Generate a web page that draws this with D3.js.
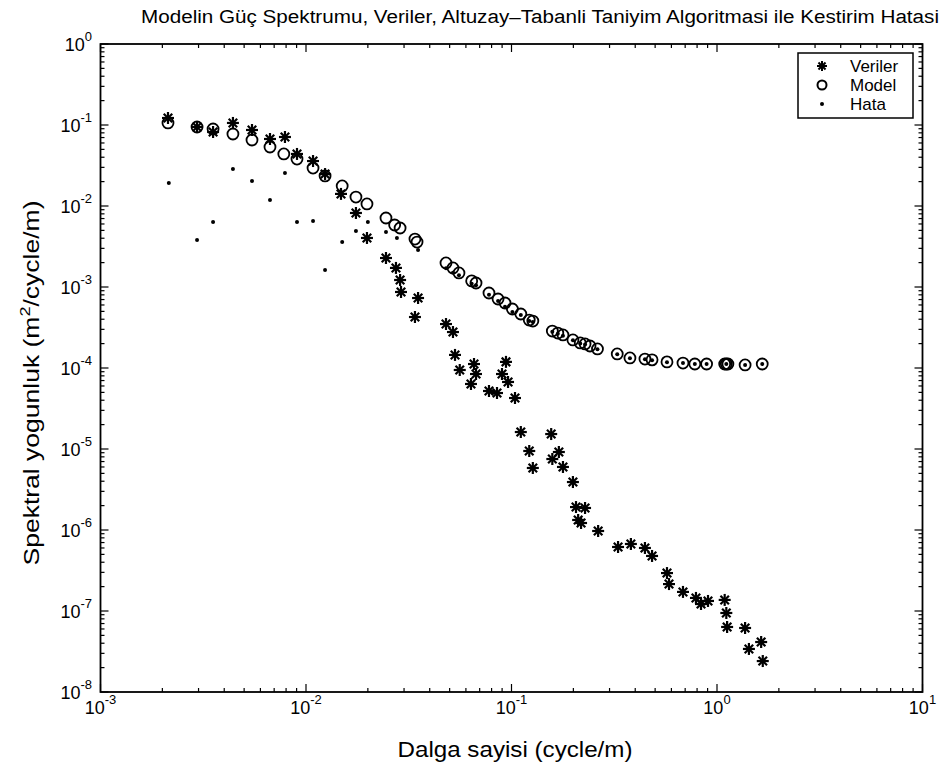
<!DOCTYPE html>
<html>
<head>
<meta charset="utf-8">
<script src="https://cdn.jsdelivr.net/npm/d3@7"></script>
<style>
body { margin: 0; background: #fff; }
</style>
</head>
<body>
<div id="chart"></div>
<script>
//Width and height
var w = 950;
var h = 766;
var plotL = 100.5, plotR = 922.5, plotT = 44, plotB = 692;

//Veriler (data) points
var verilerX = [2.13e-3, 2.95e-3, 3.53e-3, 4.41e-3, 5.46e-3, 6.68e-3, 7.90e-3, 9.04e-3, 1.082e-2, 1.238e-2,
    1.48e-2, 1.75e-2, 1.98e-2, 2.45e-2, 2.74e-2, 2.87e-2, 2.90e-2, 3.51e-2, 3.39e-2, 4.80e-2,
    5.19e-2, 5.31e-2, 5.6e-2, 6.57e-2, 6.72e-2, 6.35e-2, 7.77e-2, 8.50e-2, 9.40e-2, 8.99e-2,
    9.62e-2, 0.104, 0.111, 0.156, 0.122, 0.170, 0.158, 0.127, 0.178, 0.199,
    0.206, 0.228, 0.211, 0.218, 0.264, 0.330, 0.381, 0.446, 0.483, 0.571,
    0.584, 0.683, 0.790, 0.836, 0.904, 1.09, 1.11, 1.12, 1.37, 1.43, 1.64, 1.67];
var verilerY = [0.122, 0.0945, 0.0820, 0.106, 0.0868, 0.0672, 0.0711, 0.0439, 0.0359, 0.0248,
    0.0141, 0.0082, 0.00403, 0.00228, 0.00172, 0.00122, 8.68e-4, 7.31e-4, 4.26e-4, 3.49e-4,
    2.78e-4, 1.45e-4, 9.45e-5, 1.12e-4, 8.43e-5, 6.35e-5, 5.20e-5, 4.91e-5, 1.19e-4, 8.43e-5,
    6.72e-5, 4.26e-5, 1.62e-5, 1.53e-5, 9.45e-6, 9.18e-6, 7.52e-6, 5.83e-6, 6.00e-6, 3.91e-6,
    1.92e-6, 1.87e-6, 1.33e-6, 1.22e-6, 9.72e-7, 6.17e-7, 6.72e-7, 6.00e-7, 4.78e-7, 2.94e-7,
    2.15e-7, 1.72e-7, 1.45e-7, 1.22e-7, 1.33e-7, 1.37e-7, 9.45e-8, 6.35e-8, 6.17e-8, 3.40e-8, 4.14e-8, 2.41e-8];

//Model points
var modelX = [2.13e-3, 2.95e-3, 3.53e-3, 4.41e-3, 5.46e-3, 6.68e-3, 7.8e-3, 9.04e-3, 1.082e-2, 1.238e-2,
    1.5e-2, 1.75e-2, 1.98e-2, 2.45e-2, 2.7e-2, 2.87e-2, 3.39e-2, 3.47e-2, 4.80e-2, 5.19e-2,
    5.55e-2, 6.4e-2, 6.72e-2, 7.77e-2, 8.6e-2, 9.3e-2, 0.101, 0.111, 0.122, 0.127,
    0.158, 0.168, 0.178, 0.199, 0.216, 0.228, 0.241, 0.262, 0.327, 0.377,
    0.446, 0.483, 0.571, 0.683, 0.78, 0.89, 1.09, 1.11, 1.13, 1.37, 1.66];
var modelY = [0.106, 0.0945, 0.0893, 0.0774, 0.0653, 0.0535, 0.0439, 0.0380, 0.0294, 0.0235,
    0.0177, 0.0129, 0.0106, 0.00711, 0.00583, 0.00535, 0.00391, 0.00359, 0.00198, 0.00172,
    0.00149, 0.00119, 0.00112, 8.43e-4, 7.11e-4, 6.35e-4, 5.35e-4, 4.64e-4, 3.91e-4, 3.80e-4,
    2.86e-4, 2.70e-4, 2.56e-4, 2.22e-4, 2.04e-4, 1.98e-4, 1.87e-4, 1.72e-4, 1.49e-4, 1.33e-4,
    1.29e-4, 1.26e-4, 1.19e-4, 1.15e-4, 1.12e-4, 1.12e-4, 1.12e-4, 1.12e-4, 1.12e-4, 1.09e-4, 1.12e-4];

//Hata (error) points
var hataX = [2.15e-3, 2.95e-3, 3.53e-3, 4.41e-3, 5.46e-3, 6.68e-3, 7.90e-3, 9.04e-3, 1.082e-2, 1.238e-2,
    1.5e-2, 1.75e-2, 2.0e-2, 2.45e-2, 2.77e-2, 3.51e-2,
    4.80e-2, 5.19e-2, 5.55e-2, 6.4e-2, 6.72e-2, 7.77e-2, 8.6e-2, 9.3e-2, 0.101, 0.111,
    0.122, 0.127, 0.158, 0.168, 0.178, 0.199, 0.216, 0.228, 0.262, 0.327,
    0.377, 0.446, 0.483, 0.571, 0.683, 0.78, 0.89, 1.11, 1.37, 1.66];
var hataY = [0.0192, 0.00380, 0.00635, 0.0286, 0.0204, 0.0119, 0.0256, 0.00635, 0.00653, 0.00162,
    0.00359, 0.00491, 0.00635, 0.00478, 0.00403, 0.00286,
    1.7e-3, 1.5e-3, 1.4e-3, 1.1e-3, 1.05e-3, 8.0e-4, 6.7e-4, 5.7e-4, 4.9e-4, 4.5e-4,
    3.8e-4, 3.7e-4, 2.8e-4, 2.65e-4, 2.5e-4, 2.2e-4, 2.0e-4, 1.95e-4, 1.7e-4, 1.48e-4,
    1.32e-4, 1.28e-4, 1.25e-4, 1.18e-4, 1.15e-4, 1.12e-4, 1.12e-4, 1.12e-4, 1.09e-4, 1.12e-4];

var xDecades = [-3, -2, -1, 0, 1];
var yDecades = [-8, -7, -6, -5, -4, -3, -2, -1, 0];
var legendNames = ["Veriler", "Model", "Hata"];

var titleText = "Modelin Güç Spektrumu, Veriler, Altuzay\u2013Tabanli Taniyim Algoritmasi ile Kestirim Hatasi";

//Scales
var xScale = d3.scaleLog().domain([1e-3, 1e1]).range([plotL, plotR]);
var yScale = d3.scaleLog().domain([1e-8, 1e0]).range([plotB, plotT]);

var svg = d3.select("#chart")
    .append("svg")
    .attr("width", w)
    .attr("height", h)
    .style("font-family", "'Liberation Sans', Arial, sans-serif");

svg.append("rect").attr("width", w).attr("height", h).attr("fill", "white");

//Ticks on all four sides
function minorList(decades) {
    var out = [];
    decades.forEach(function (d, i) {
        if (i == decades.length - 1) return;
        for (var k = 2; k <= 9; k++) out.push(k * Math.pow(10, d));
    });
    return out;
}
var tickG = svg.append("g").attr("stroke", "black").attr("stroke-width", 1.2);

xDecades.forEach(function (d) {
    var x = xScale(Math.pow(10, d));
    tickG.append("line").attr("x1", x).attr("x2", x).attr("y1", plotB).attr("y2", plotB - 8);
    tickG.append("line").attr("x1", x).attr("x2", x).attr("y1", plotT).attr("y2", plotT + 8);
});
minorList(xDecades).forEach(function (v) {
    var x = xScale(v);
    tickG.append("line").attr("x1", x).attr("x2", x).attr("y1", plotB).attr("y2", plotB - 4);
    tickG.append("line").attr("x1", x).attr("x2", x).attr("y1", plotT).attr("y2", plotT + 4);
});
yDecades.forEach(function (d) {
    var y = yScale(Math.pow(10, d));
    tickG.append("line").attr("x1", plotL).attr("x2", plotL + 8).attr("y1", y).attr("y2", y);
    tickG.append("line").attr("x1", plotR).attr("x2", plotR - 8).attr("y1", y).attr("y2", y);
});
minorList(yDecades).forEach(function (v) {
    var y = yScale(v);
    tickG.append("line").attr("x1", plotL).attr("x2", plotL + 4).attr("y1", y).attr("y2", y);
    tickG.append("line").attr("x1", plotR).attr("x2", plotR - 4).attr("y1", y).attr("y2", y);
});

//Frame
svg.append("rect")
    .attr("x", plotL).attr("y", plotT)
    .attr("width", plotR - plotL).attr("height", plotB - plotT)
    .attr("fill", "none").attr("stroke", "black").attr("stroke-width", 1.8);

//Tick labels
xDecades.forEach(function (d) {
    var t = svg.append("text")
        .attr("x", xScale(Math.pow(10, d)))
        .attr("y", plotB + 22)
        .attr("text-anchor", "middle")
        .attr("font-size", "18px");
    t.append("tspan").text("10");
    t.append("tspan").attr("dy", -10).attr("font-size", "13px").text(d);
});
yDecades.forEach(function (d) {
    var t = svg.append("text")
        .attr("x", 92)
        .attr("y", yScale(Math.pow(10, d)) + 7)
        .attr("text-anchor", "end")
        .attr("font-size", "18px");
    t.append("tspan").text("10");
    t.append("tspan").attr("dy", -10).attr("font-size", "13px").text(d);
});

//Title and axis labels
svg.append("text")
    .attr("x", 141).attr("y", 23)
    .attr("font-size", "18px")
    .attr("textLength", 798)
    .attr("lengthAdjust", "spacingAndGlyphs")
    .text(titleText);

svg.append("text")
    .attr("x", 515).attr("y", 757)
    .attr("text-anchor", "middle")
    .attr("font-size", "22px")
    .attr("textLength", 235)
    .attr("lengthAdjust", "spacingAndGlyphs")
    .text("Dalga sayisi (cycle/m)");

var yl = svg.append("text")
    .attr("transform", "translate(39,383) rotate(-90)")
    .attr("text-anchor", "middle")
    .attr("font-size", "22px")
    .attr("textLength", 365)
    .attr("lengthAdjust", "spacingAndGlyphs");
yl.append("tspan").text("Spektral yogunluk (m");
yl.append("tspan").attr("dy", -9).attr("font-size", "15px").text("2");
yl.append("tspan").attr("dy", 9).text("/cycle/m)");

//Marker helpers
function asterisk(g, s) {
    var a = s * 0.7071;
    g.append("line").attr("x1", -s).attr("x2", s).attr("y1", 0).attr("y2", 0);
    g.append("line").attr("x1", 0).attr("x2", 0).attr("y1", -s).attr("y2", s);
    g.append("line").attr("x1", -a).attr("x2", a).attr("y1", -a).attr("y2", a);
    g.append("line").attr("x1", -a).attr("x2", a).attr("y1", a).attr("y2", -a);
}

var veriler = verilerX.map(function (x, i) { return { x: x, y: verilerY[i] }; });
var model = modelX.map(function (x, i) { return { x: x, y: modelY[i] }; });
var hata = hataX.map(function (x, i) { return { x: x, y: hataY[i] }; });

//Veriler asterisks
svg.append("g").selectAll("g")
    .data(veriler)
    .enter()
    .append("g")
    .attr("transform", function (d) { return "translate(" + xScale(d.x) + "," + yScale(d.y) + ")"; })
    .attr("stroke", "black")
    .attr("stroke-width", 2.2)
    .each(function () { asterisk(d3.select(this), 6); });

//Model circles
svg.append("g").selectAll("circle")
    .data(model)
    .enter()
    .append("circle")
    .attr("cx", function (d) { return xScale(d.x); })
    .attr("cy", function (d) { return yScale(d.y); })
    .attr("r", 5.5)
    .attr("fill", "none")
    .attr("stroke", "black")
    .attr("stroke-width", 1.8);

//Hata dots
svg.append("g").selectAll("circle")
    .data(hata)
    .enter()
    .append("circle")
    .attr("cx", function (d) { return xScale(d.x); })
    .attr("cy", function (d) { return yScale(d.y); })
    .attr("r", 2)
    .attr("fill", "black");

//Legend
var lg = svg.append("g");
lg.append("rect")
    .attr("x", 798).attr("y", 53)
    .attr("width", 115).attr("height", 65)
    .attr("fill", "white").attr("stroke", "black").attr("stroke-width", 1.5);
var rowY = [66, 85, 104];
legendNames.forEach(function (name, i) {
    var g = lg.append("g").attr("transform", "translate(822," + rowY[i] + ")");
    if (i == 0) {
        g.attr("stroke", "black").attr("stroke-width", 2);
        asterisk(g, 5);
    } else if (i == 1) {
        g.append("circle").attr("r", 4.5).attr("fill", "none").attr("stroke", "black").attr("stroke-width", 2);
    } else {
        g.append("circle").attr("r", 2).attr("fill", "black");
    }
    lg.append("text")
        .attr("x", 850).attr("y", rowY[i] + 6)
        .attr("font-size", "17px")
        .text(name);
});
</script>
</body>
</html>
